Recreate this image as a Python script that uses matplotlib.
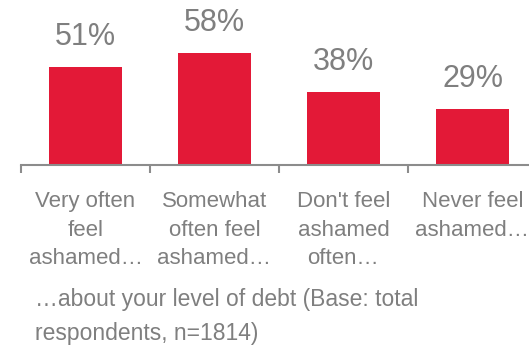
import matplotlib
matplotlib.use("Agg")
import matplotlib.pyplot as plt
from matplotlib import font_manager

names = {f.name for f in font_manager.fontManager.ttflist}
fam = ['Liberation Sans Narrow', 'Liberation Sans', 'DejaVu Sans']
fam = [f for f in fam if f in names] + ['DejaVu Sans']
plt.rcParams['font.family'] = fam

categories = ["Very often\nfeel\nashamed…", "Somewhat\noften feel\nashamed…",
              "Don't feel\nashamed\noften…", "Never feel\nashamed…"]
values = [51, 58, 38, 29]
value_labels = ["51%", "58%", "38%", "29%"]
footnote = "…about your level of debt (Base: total\nrespondents, n=1814)"

W, H = 529, 348
fig = plt.figure(figsize=(W / 100, H / 100), dpi=100)
ax = fig.add_axes([21 / W, 1 - 165 / H, 516 / W, 165 / H])

bar_color = '#E31937'
text_color = '#7f7f7f'
axis_color = '#8c8c8c'

x = list(range(len(values)))
ax.bar(x, values, width=0.57, color=bar_color)
for xi, v, lab in zip(x, values, value_labels):
    ax.annotate(lab, (xi, v), xytext=(0, 15), textcoords='offset pixels',
                ha='center', va='bottom', fontsize=22, color=text_color)

ax.set_xlim(-0.5, 3.5)
ax.set_ylim(0, 85.5)
for s in ['top', 'right', 'left']:
    ax.spines[s].set_visible(False)
ax.spines['bottom'].set_color(axis_color)
ax.spines['bottom'].set_linewidth(1.5)
ax.set_yticks([])
ax.set_xticks(x)
ax.set_xticklabels(categories, fontsize=16, color=text_color, linespacing=1.45)
ax.tick_params(axis='x', which='major', length=0, pad=19)
ax.set_xticks([-0.5, 0.5, 1.5, 2.5, 3.5], minor=True)
ax.tick_params(axis='x', which='minor', length=6, width=1.5, color=axis_color, direction='out')

fig.text(35 / W, 1 - 288 / H, footnote, fontsize=16.5, color=text_color,
         ha='left', va='top', linespacing=1.6)

fig.savefig('out.png', dpi=100)
